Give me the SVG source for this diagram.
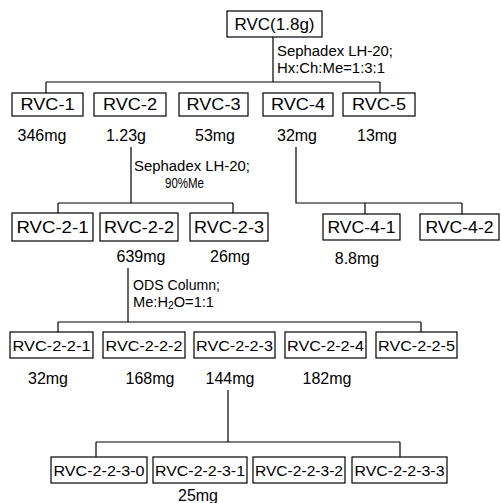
<svg xmlns="http://www.w3.org/2000/svg" width="501" height="503" viewBox="0 0 501 503">
<style>
.box{fill:#fff;stroke:#000;stroke-width:1.2}
.t{font-family:"Liberation Sans",Arial,sans-serif;font-size:16px;fill:#000;text-anchor:middle}
.s{font-family:"Liberation Sans",Arial,sans-serif;font-size:15px;fill:#000;text-anchor:middle}
.lab{font-family:"Liberation Sans",Arial,sans-serif;font-size:14px;fill:#000}
.ln{fill:none;stroke:#000;stroke-width:1.2}
</style>
<rect width="501" height="503" fill="#fff"/>
<g id="connectors">
<path class="ln" d="M273,37 V82 M46,82 H380 M46,82 V93 M380,82 V93"/>
<path class="ln" d="M131,147 V203 M58,203 H233 M58,203 V213 M233,203 V213"/>
<path class="ln" d="M296,147 V203 H462 M365,203 V214 M462,203 V214"/>
<path class="ln" d="M128,268 V322 M58,322 H421 M58,322 V332 M421,322 V332"/>
<path class="ln" d="M228,390 V442 M96,442 H400 M96,442 V457 M400,442 V457"/>
</g>
<g id="labels">
<text class="lab" x="277" y="56" textLength="116" lengthAdjust="spacingAndGlyphs">Sephadex LH-20;</text>
<text class="lab" x="277" y="73" textLength="108" lengthAdjust="spacingAndGlyphs">Hx:Ch:Me=1:3:1</text>
<text class="lab" x="134" y="171" textLength="116" lengthAdjust="spacingAndGlyphs">Sephadex LH-20;</text>
<text class="lab" x="165" y="188" textLength="39" lengthAdjust="spacingAndGlyphs">90%Me</text>
<text class="lab" x="133" y="290" textLength="87" lengthAdjust="spacingAndGlyphs">ODS Column;</text>
<text class="lab" x="133" y="307" textLength="81" lengthAdjust="spacingAndGlyphs">Me:H<tspan font-size="10" dy="2">2</tspan><tspan dy="-2">O=1:1</tspan></text>
</g>
<g id="RVC"><rect class="box" x="227" y="11" width="95" height="26"/><text class="t" x="274.5" y="30" font-size="17" textLength="80" lengthAdjust="spacingAndGlyphs">RVC(1.8g)</text></g>
<g id="RVC-1"><rect class="box" x="12" y="93" width="71" height="23"/><text class="t" x="47.5" y="110" textLength="54" lengthAdjust="spacingAndGlyphs">RVC-1</text><text class="t" x="42" y="141">346mg</text></g>
<g id="RVC-2"><rect class="box" x="94" y="93" width="72" height="23"/><text class="t" x="130" y="110" textLength="54" lengthAdjust="spacingAndGlyphs">RVC-2</text><text class="t" x="126" y="141">1.23g</text></g>
<g id="RVC-3"><rect class="box" x="179" y="93" width="69" height="23"/><text class="t" x="213.5" y="110" textLength="54" lengthAdjust="spacingAndGlyphs">RVC-3</text><text class="t" x="215" y="141">53mg</text></g>
<g id="RVC-4"><rect class="box" x="263" y="93" width="70" height="23"/><text class="t" x="298" y="110" textLength="54" lengthAdjust="spacingAndGlyphs">RVC-4</text><text class="t" x="297" y="141">32mg</text></g>
<g id="RVC-5"><rect class="box" x="343" y="93" width="72" height="23"/><text class="t" x="379" y="110" textLength="54" lengthAdjust="spacingAndGlyphs">RVC-5</text><text class="t" x="377" y="141">13mg</text></g>
<g id="RVC-2-1"><rect class="box" x="12" y="213" width="81" height="28"/><text class="t" x="52.5" y="233" textLength="72" lengthAdjust="spacingAndGlyphs">RVC-2-1</text></g>
<g id="RVC-2-2"><rect class="box" x="100" y="213" width="78" height="28"/><text class="t" x="139" y="233" textLength="70" lengthAdjust="spacingAndGlyphs">RVC-2-2</text><text class="t" x="141" y="262">639mg</text></g>
<g id="RVC-2-3"><rect class="box" x="190" y="213" width="78" height="28"/><text class="t" x="229" y="233" textLength="70" lengthAdjust="spacingAndGlyphs">RVC-2-3</text><text class="t" x="230" y="262">26mg</text></g>
<g id="RVC-4-1"><rect class="box" x="323" y="214" width="77" height="26"/><text class="t" x="361.5" y="233" textLength="68" lengthAdjust="spacingAndGlyphs">RVC-4-1</text><text class="t" x="357" y="264" font-size="14">8.8mg</text></g>
<g id="RVC-4-2"><rect class="box" x="420" y="214" width="79" height="26"/><text class="t" x="459.5" y="233" textLength="68" lengthAdjust="spacingAndGlyphs">RVC-4-2</text></g>
<g id="RVC-2-2-1"><rect class="box" x="10" y="332" width="83" height="26"/><text class="s" x="51.5" y="351" textLength="78" lengthAdjust="spacingAndGlyphs">RVC-2-2-1</text><text class="t" x="48" y="384">32mg</text></g>
<g id="RVC-2-2-2"><rect class="box" x="103" y="332" width="82" height="26"/><text class="s" x="144" y="351" textLength="77" lengthAdjust="spacingAndGlyphs">RVC-2-2-2</text><text class="t" x="150" y="384">168mg</text></g>
<g id="RVC-2-2-3"><rect class="box" x="194" y="332" width="81" height="26"/><text class="s" x="234.5" y="351" textLength="77" lengthAdjust="spacingAndGlyphs">RVC-2-2-3</text><text class="t" x="230" y="384">144mg</text></g>
<g id="RVC-2-2-4"><rect class="box" x="285" y="332" width="81" height="26"/><text class="s" x="325.5" y="351" textLength="77" lengthAdjust="spacingAndGlyphs">RVC-2-2-4</text><text class="t" x="327" y="384">182mg</text></g>
<g id="RVC-2-2-5"><rect class="box" x="376" y="332" width="81" height="26"/><text class="s" x="416.5" y="351" textLength="77" lengthAdjust="spacingAndGlyphs">RVC-2-2-5</text></g>
<g id="RVC-2-2-3-0"><rect class="box" x="51" y="457" width="96" height="26"/><text class="s" x="99" y="476" textLength="91" lengthAdjust="spacingAndGlyphs">RVC-2-2-3-0</text></g>
<g id="RVC-2-2-3-1"><rect class="box" x="153" y="457" width="94" height="26"/><text class="s" x="200" y="476" textLength="90" lengthAdjust="spacingAndGlyphs">RVC-2-2-3-1</text><text class="t" x="198" y="501" font-size="15">25mg</text></g>
<g id="RVC-2-2-3-2"><rect class="box" x="253" y="457" width="92" height="26"/><text class="s" x="299" y="476" textLength="88" lengthAdjust="spacingAndGlyphs">RVC-2-2-3-2</text></g>
<g id="RVC-2-2-3-3"><rect class="box" x="352" y="457" width="95" height="26"/><text class="s" x="399.5" y="476" textLength="90" lengthAdjust="spacingAndGlyphs">RVC-2-2-3-3</text></g>
</svg>
